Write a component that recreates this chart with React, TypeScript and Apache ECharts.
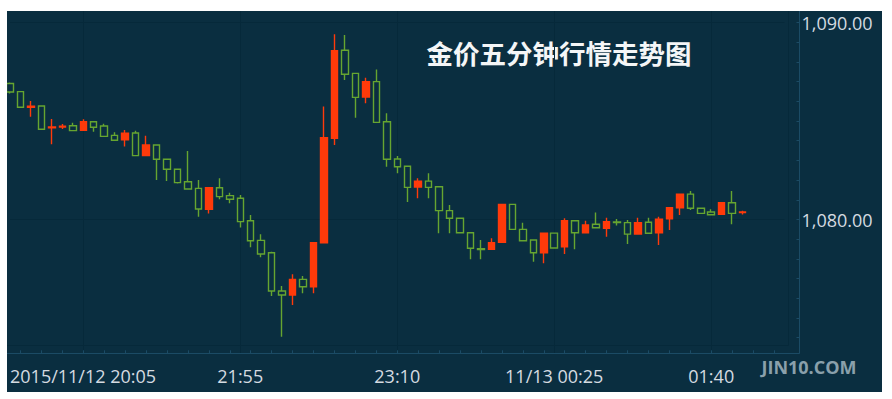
import React, { useEffect, useRef } from "react";
import * as echarts from "echarts";

// 5-minute candles, 2015/11/12 20:05 -> 11/13 01:55 (plus empty slots to the right edge)
const categories = [
  "20:05", "20:10", "20:15", "20:20", "20:25", "20:30", "20:35", "20:40", "20:45", "20:50", "20:55",
  "21:00", "21:05", "21:10", "21:15", "21:20", "21:25", "21:30", "21:35", "21:40", "21:45", "21:50", "21:55",
  "22:00", "22:05", "22:10", "22:15", "22:20", "22:25", "22:30", "22:35", "22:40", "22:45", "22:50", "22:55",
  "23:00", "23:05", "23:10", "23:15", "23:20", "23:25", "23:30", "23:35", "23:40", "23:45", "23:50", "23:55",
  "00:00", "00:05", "00:10", "00:15", "00:20", "00:25", "00:30", "00:35", "00:40", "00:45", "00:50", "00:55",
  "01:00", "01:05", "01:10", "01:15", "01:20", "01:25", "01:30", "01:35", "01:40", "01:45", "01:50", "01:55",
  "02:00", "02:05", "02:10", "02:15",
];
const startDate = "2015/11/12";
const nextDate = "11/13";

const openValues = [
  1086.9, 1086.49, 1085.7, 1085.76, 1084.66, 1084.69, 1084.76, 1084.53, 1084.96, 1084.75,
  1084.27, 1084.04, 1084.39, 1083.24, 1083.78, 1083.06, 1082.55, 1081.92, 1081.58, 1080.52,
  1081.61, 1081.21, 1081.08, 1079.94, 1078.94, 1078.31, 1076.37, 1076.17, 1076.96, 1076.59,
  1078.82, 1084.12, 1088.59, 1087.42, 1086.22, 1087.0, 1084.96, 1083.07, 1082.7, 1081.65,
  1081.95, 1081.66, 1080.45, 1080.06, 1079.33, 1078.52, 1078.49, 1078.84, 1080.77, 1079.5,
  1078.96, 1078.31, 1079.31, 1078.62, 1079.94, 1079.33, 1079.76, 1079.55, 1079.88, 1079.84,
  1079.26, 1079.86, 1079.33, 1080.03, 1080.6, 1081.29, 1080.57, 1080.38, 1080.26, 1080.85,
  1080.35,
];
const closeValues = [
  1086.47, 1085.7, 1085.75, 1084.58, 1084.7, 1084.73, 1084.51, 1084.96, 1084.68, 1084.22,
  1084.02, 1084.38, 1083.24, 1083.78, 1083.06, 1082.55, 1081.87, 1081.55, 1080.53, 1081.61,
  1081.16, 1081.03, 1079.89, 1078.92, 1078.25, 1076.37, 1076.17, 1076.96, 1076.59, 1078.82,
  1084.15, 1088.57, 1087.37, 1086.2, 1087.0, 1084.93, 1083.06, 1082.68, 1081.63, 1081.94,
  1081.63, 1080.45, 1080.06, 1079.33, 1078.54, 1078.48, 1078.82, 1080.77, 1079.5, 1078.92,
  1078.31, 1079.3, 1078.55, 1079.94, 1079.33, 1079.72, 1079.58, 1079.89, 1079.84, 1079.26,
  1079.84, 1079.3, 1080.01, 1080.6, 1081.28, 1080.57, 1080.31, 1080.24, 1080.85, 1080.31,
  1080.38,
];
const lowValues = [
  1086.4, 1085.67, 1085.22, 1084.55, 1083.82, 1084.59, 1084.49, 1084.5, 1084.46, 1084.2,
  1084.0, 1083.7, 1083.22, 1083.22, 1082.01, 1081.95, 1081.83, 1081.53, 1080.14, 1080.31,
  1081.03, 1080.82, 1079.6, 1078.59, 1078.08, 1076.12, 1074.05, 1075.66, 1076.25, 1076.25,
  1078.8, 1083.78, 1087.08, 1085.17, 1085.9, 1084.9, 1082.68, 1082.35, 1080.89, 1081.08,
  1081.08, 1079.3, 1079.3, 1079.31, 1077.98, 1077.98, 1078.47, 1078.82, 1079.48, 1078.9,
  1077.86, 1077.78, 1078.53, 1078.25, 1078.49, 1079.31, 1079.56, 1079.13, 1079.69, 1078.76,
  1079.24, 1079.28, 1078.71, 1079.47, 1080.23, 1080.48, 1080.29, 1080.22, 1080.24, 1079.76,
  1080.26,
];
const highValues = [
  1086.95, 1086.52, 1086.02, 1085.8, 1085.1, 1084.85, 1084.91, 1085.09, 1085.0, 1084.86,
  1084.43, 1084.54, 1084.51, 1084.25, 1083.8, 1083.08, 1082.57, 1083.48, 1082.01, 1081.63,
  1082.09, 1081.36, 1081.24, 1080.23, 1079.25, 1078.36, 1076.62, 1077.22, 1077.13, 1078.85,
  1085.73, 1089.4, 1089.37, 1087.45, 1087.2, 1087.62, 1085.39, 1083.22, 1082.72, 1082.09,
  1082.35, 1081.68, 1080.74, 1080.08, 1079.35, 1078.96, 1079.05, 1080.79, 1080.79, 1079.84,
  1078.98, 1079.32, 1079.33, 1080.06, 1079.96, 1079.94, 1080.35, 1080.09, 1080.03, 1079.97,
  1080.09, 1080.09, 1080.14, 1080.62, 1081.3, 1081.45, 1080.59, 1080.52, 1080.87, 1081.45,
  1080.45,
];

const yMin = 1073.208;
const yMax = 1090.584;
const yLabelValues = [1080, 1090];
const yTickValues = [
  1074, 1075, 1076, 1077, 1078, 1079, 1080, 1081, 1082, 1083, 1084, 1085, 1086, 1087, 1088, 1089, 1090,
];
const titleText = "金价五分钟行情走势图";
const watermarkText = "JIN10.COM";

const BG = "#0a2e40";
const GRID_LINE = "#06293a";
const AXIS_LINE = "#1b4b65";
const LABEL = "#d5dbe0";
const UP = "#ff3a0a";
const DOWN = "#66a530";

export default function App() {
  const ref = useRef<HTMLDivElement>(null);
  useEffect(() => {
    const chart = echarts.init(ref.current!, null, { renderer: "svg" });
    const candleData = openValues.map((o, i) => [o, closeValues[i], lowValues[i], highValues[i]]);
    const labelIdx = (i: number) => i === 0 || (i > 7 && (i - 7) % 15 === 0);
    const option: any = {
      animation: false,
      backgroundColor: BG,
      grid: { left: -1.7, right: 97.5, top: 0, bottom: 38.7 },
      xAxis: {
        type: "category",
        data: categories,
        boundaryGap: false,
        axisLine: { show: false },
        axisTick: {
          show: true,
          inside: true,
          length: 3,
          interval: (i: number) => i % 2 === 1,
          lineStyle: { color: AXIS_LINE },
        },
        axisLabel: {
          color: LABEL,
          fontSize: 18,
          fontFamily: "Open Sans",
          margin: 14,
          interval: (i: number) => labelIdx(i),
          alignMinLabel: "left",
          formatter: (v: string, i: number) =>
            i === 0 ? `${startDate} ${v}` : v.startsWith("00") ? `${nextDate} ${v}` : v,
        },
        splitLine: {
          show: true,
          interval: (i: number) => i >= 7 && (i - 7) % 15 === 0,
          lineStyle: { color: GRID_LINE, width: 1 },
        },
      },
      yAxis: [
        {
          type: "value",
          position: "right",
          min: yMin,
          max: yMax,
          splitNumber: 17,
          offset: 15,
          axisLine: { show: true, lineStyle: { color: AXIS_LINE } },
          axisTick: {
            show: true,
            inside: true,
            length: 3,
            customValues: yTickValues,
            lineStyle: { color: AXIS_LINE },
          },
          axisLabel: {
            color: LABEL,
            fontSize: 18,
            fontFamily: "Open Sans",
            margin: 2,
            customValues: yLabelValues,
            formatter: (v: number) =>
              v.toLocaleString("en-US", { minimumFractionDigits: 2, maximumFractionDigits: 2 }),
          },
          splitLine: { show: false },
        },
        {
          type: "value",
          position: "right",
          min: yMin,
          max: yMax,
          splitNumber: 2,
          axisLine: { show: false },
          axisTick: { show: false, customValues: yLabelValues },
          axisLabel: { show: false },
          splitLine: { show: true, lineStyle: { color: GRID_LINE, width: 1 } },
        },
      ],
      series: [
        {
          type: "candlestick",
          data: candleData,
          barWidth: 7,
          clip: true,
          itemStyle: {
            color: UP,
            color0: BG,
            borderColor: UP,
            borderColor0: DOWN,
            borderWidth: 1.4,
          },
        },
      ],
      graphic: [
        {
          type: "line",
          silent: true,
          z: 1,
          shape: { x1: 0, y1: 334.5, x2: 781.5, y2: 334.5 },
          style: { stroke: GRID_LINE, lineWidth: 1 },
        },
        {
          type: "line",
          silent: true,
          z: 1,
          shape: { x1: 781.5, y1: 0, x2: 781.5, y2: 334.5 },
          style: { stroke: GRID_LINE, lineWidth: 1 },
        },
        {
          type: "line",
          silent: true,
          z: 1,
          shape: { x1: 0, y1: 342.5, x2: 792.5, y2: 342.5 },
          style: { stroke: AXIS_LINE, lineWidth: 1 },
        },
        {
          type: "text",
          silent: true,
          x: 552,
          y: 41,
          style: {
            text: titleText,
            fill: "#f4f6f7",
            font: 'bold 26.5px "Noto Sans CJK SC"',
            textAlign: "center",
            textVerticalAlign: "middle",
          },
        },
        {
          type: "text",
          silent: true,
          x: 802,
          y: 356,
          style: {
            text: watermarkText,
            fill: "#8aa0ab",
            font: 'bold 18px "Open Sans"',
            textAlign: "center",
            textVerticalAlign: "middle",
          },
        },
      ],
    };
    chart.setOption(option);
    return () => chart.dispose();
  }, []);
  return (
    <div style={{ position: "fixed", left: 0, top: 0, width: 892, height: 399, background: "#fff" }}>
      <div ref={ref} style={{ position: "absolute", left: 7, top: 11, width: 875, height: 381 }} />
    </div>
  );
}
